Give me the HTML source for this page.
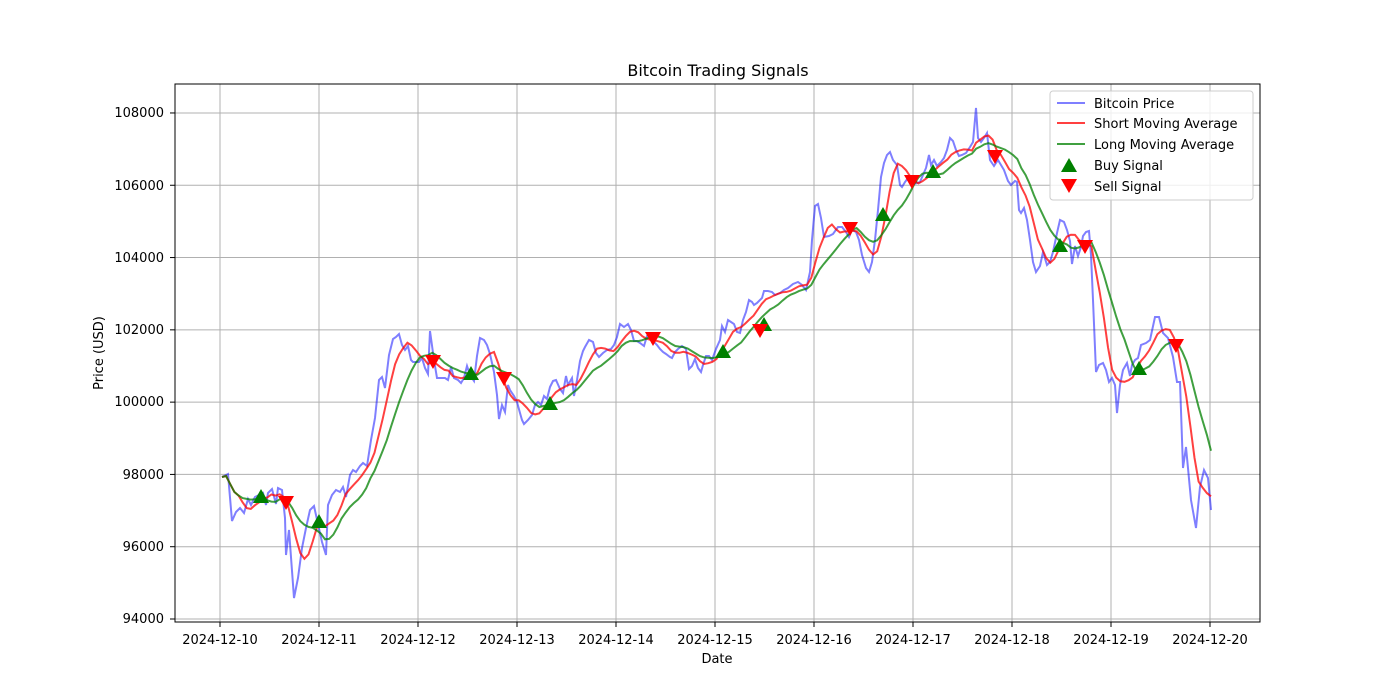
<!DOCTYPE html>
<html><head><meta charset="utf-8"><style>
body{margin:0;background:#fff}
svg{display:block;font-family:"DejaVu Sans","Liberation Sans",sans-serif}
</style></head><body>
<svg id="s" width="1400" height="700" xmlns="http://www.w3.org/2000/svg">
<rect width="1400" height="700" fill="#fff"/>
<g id="grid" stroke="#b0b0b0" stroke-width="1"></g>
<g id="series"></g>
<rect x="175" y="84" width="1085" height="538" fill="none" stroke="#000" stroke-width="1"/>
<g id="ticks" stroke="#000"></g>
<g font-size="13" fill="#000" text-anchor="end">
<text x="164" y="623">94000</text><text x="164" y="551">96000</text><text x="164" y="479">98000</text>
<text x="164" y="406">100000</text><text x="164" y="334">102000</text><text x="164" y="262">104000</text>
<text x="164" y="190">106000</text><text x="164" y="117">108000</text>
</g>
<g font-size="13" fill="#000" text-anchor="middle">
<text x="220" y="644">2024-12-10</text><text x="319" y="644">2024-12-11</text><text x="418" y="644">2024-12-12</text>
<text x="517" y="644">2024-12-13</text><text x="616" y="644">2024-12-14</text><text x="715" y="644">2024-12-15</text>
<text x="814" y="644">2024-12-16</text><text x="913" y="644">2024-12-17</text><text x="1012" y="644">2024-12-18</text>
<text x="1111" y="644">2024-12-19</text><text x="1210" y="644">2024-12-20</text>
<text x="717" y="663">Date</text>
<text x="718" y="76" font-size="16">Bitcoin Trading Signals</text>
<text transform="translate(103,353) rotate(-90)">Price (USD)</text>
</g>
<g>
<rect x="1050" y="91" width="203" height="109" rx="3" fill="#fff" fill-opacity="0.8" stroke="#ccc"/>
<line x1="1057" y1="103" x2="1085" y2="103" stroke="#0000ff" stroke-opacity="0.5" stroke-width="2"/>
<line x1="1057" y1="123" x2="1085" y2="123" stroke="#ff0000" stroke-opacity="0.75" stroke-width="2"/>
<line x1="1057" y1="144" x2="1085" y2="144" stroke="#008000" stroke-opacity="0.75" stroke-width="2"/>
<polygon points="1069,158 1077,172 1061,172" fill="green"/>
<polygon points="1061,179 1077,179 1069,193" fill="red"/>
<g font-size="13" fill="#000">
<text x="1094" y="108">Bitcoin Price</text><text x="1094" y="128">Short Moving Average</text>
<text x="1094" y="149">Long Moving Average</text><text x="1094" y="170">Buy Signal</text>
<text x="1094" y="191">Sell Signal</text></g>
</g>
</svg>
<script>
var NS="http://www.w3.org/2000/svg";
function el(p,t,a){var e=document.createElementNS(NS,t);for(var k in a)e.setAttribute(k,a[k]);p.appendChild(e);return e;}
var g=document.getElementById('grid'),tk=document.getElementById('ticks');
for(var i=0;i<=10;i++){var x=220+99*i;el(g,'line',{x1:x,y1:84,x2:x,y2:622});el(tk,'line',{x1:x,y1:622,x2:x,y2:627});}
for(var i=0;i<=7;i++){var y=619-72.29*i;el(g,'line',{x1:175,y1:y,x2:1260,y2:y});el(tk,'line',{x1:170,y1:y,x2:175,y2:y});}
var P=[[222,477],[228,474],[232,521],[236,512],[240,508],[244,513],[248,499],[251,505],[255,497],[259,495],[263,493],[266,505],[268,493],[272,489],[276,504],[278,488],[282,490],[285,518],[286,555],[289,530],[294,598],[298,578],[302,548],[306,528],[310,510],[314,506],[318,524],[322,542],[326,555],[328,505],[332,495],[336,490],[340,492],[343,487],[346,497],[350,475],[353,470],[356,472],[360,466],[363,463],[367,466],[371,440],[375,418],[379,380],[382,377],[385,388],[389,355],[393,339],[396,337],[399,334],[402,345],[405,350],[408,346],[411,360],[413,362],[419,362],[422,358],[425,368],[428,374],[430,331],[434,360],[437,378],[440,378],[445,378],[448,380],[451,367],[454,378],[458,380],[461,383],[464,378],[467,366],[470,375],[474,381],[477,356],[480,338],[484,340],[487,345],[490,354],[494,372],[497,395],[499,419],[502,405],[505,412],[508,385],[510,390],[514,396],[517,402],[520,413],[522,420],[524,424],[528,420],[532,415],[535,405],[538,402],[541,405],[544,396],[547,399],[550,387],[553,381],[556,380],[560,389],[563,393],[566,376],[568,385],[572,378],[574,396],[577,380],[580,361],[583,351],[585,347],[589,340],[593,342],[596,353],[599,357],[603,353],[607,350],[611,349],[614,345],[617,337],[620,324],[624,327],[628,324],[631,330],[634,341],[637,341],[640,343],[644,346],[647,336],[651,334],[654,342],[657,345],[660,349],[663,352],[666,354],[670,357],[672,358],[675,352],[678,349],[682,346],[686,349],[689,369],[692,366],[695,359],[698,368],[701,372],[703,365],[706,356],[709,356],[712,360],[716,349],[720,340],[722,326],[725,332],[728,320],[731,322],[734,324],[737,332],[740,333],[743,320],[746,312],[749,300],[752,302],[754,305],[757,303],[762,298],[764,291],[768,291],[772,292],[775,295],[780,293],[784,290],[788,288],[793,284],[798,282],[802,285],[806,290],[810,272],[812,240],[815,206],[818,204],[821,218],[824,237],[829,236],[833,234],[838,227],[842,227],[846,232],[849,237],[852,230],[856,232],[859,240],[862,255],[866,268],[869,272],[872,262],[875,240],[878,210],[881,177],[884,163],[887,155],[890,152],[893,160],[897,165],[900,185],[902,187],[905,182],[908,178],[911,185],[913,184],[917,183],[920,182],[923,175],[926,168],[929,155],[931,165],[934,160],[937,166],[941,162],[944,158],[947,150],[950,138],[953,141],[956,150],[959,156],[962,155],[966,153],[970,147],[973,142],[976,108],[978,138],[981,142],[984,138],[987,133],[990,160],[994,166],[998,160],[1001,165],[1004,170],[1008,181],[1011,185],[1015,181],[1017,182],[1019,210],[1021,213],[1024,208],[1027,220],[1030,240],[1033,262],[1036,272],[1040,266],[1043,252],[1047,265],[1050,262],[1053,252],[1057,233],[1060,220],[1064,222],[1067,230],[1070,241],[1072,264],[1075,246],[1078,256],[1081,247],[1083,236],[1086,232],[1089,231],[1091,255],[1093,300],[1096,372],[1099,365],[1103,363],[1106,370],[1109,382],[1112,378],[1115,385],[1117,413],[1120,385],[1123,370],[1127,363],[1130,376],[1132,365],[1135,360],[1138,358],[1141,345],[1146,343],[1150,340],[1155,317],[1159,317],[1163,333],[1168,338],[1173,357],[1177,382],[1180,382],[1183,468],[1186,447],[1191,500],[1196,528],[1200,487],[1204,470],[1208,478],[1211,510]];
var U=[],step=(1211-222)/240;
for(var i=0;i<=240;i++){var x=222+i*step,j=0;while(j<P.length-2&&P[j+1][0]<x)j++;var a=P[j],b=P[j+1],t=(x-a[0])/(b[0]-a[0]);t=Math.max(0,Math.min(1,t));U.push([x,a[1]+(b[1]-a[1])*t]);}
function ma(w){return U.map(function(p,i){var s=0,n=0;for(var k=Math.max(0,i-w+1);k<=i;k++){s+=U[k][1];n++;}return[p[0],s/n];});}
function pts(a){return a.map(function(p){return p[0].toFixed(1)+','+p[1].toFixed(1)}).join(' ');}
var S=document.getElementById('series');
el(S,'polyline',{points:pts(P),fill:'none',stroke:'#0000ff','stroke-opacity':0.5,'stroke-width':2});
el(S,'polyline',{points:pts(ma(5)),fill:'none',stroke:'#ff0000','stroke-opacity':0.75,'stroke-width':2});
el(S,'polyline',{points:pts(ma(11)),fill:'none',stroke:'#008000','stroke-opacity':0.75,'stroke-width':2});
var B=[[261,497],[319,522],[471,374],[550,404],[723,352],[764,325],[883,215],[933,172],[1060,246],[1139,369]];
var R=[[286,502],[433,361],[504,378],[653,338],[760,330],[850,228],[912,181],[995,156],[1085,246],[1176,345]];
B.forEach(function(p){el(S,'polygon',{points:(p[0])+','+(p[1]-8)+' '+(p[0]+8)+','+(p[1]+6)+' '+(p[0]-8)+','+(p[1]+6),fill:'green'});});
R.forEach(function(p){el(S,'polygon',{points:(p[0]-8)+','+(p[1]-6)+' '+(p[0]+8)+','+(p[1]-6)+' '+p[0]+','+(p[1]+8),fill:'red'});});
</script>
</body></html>
